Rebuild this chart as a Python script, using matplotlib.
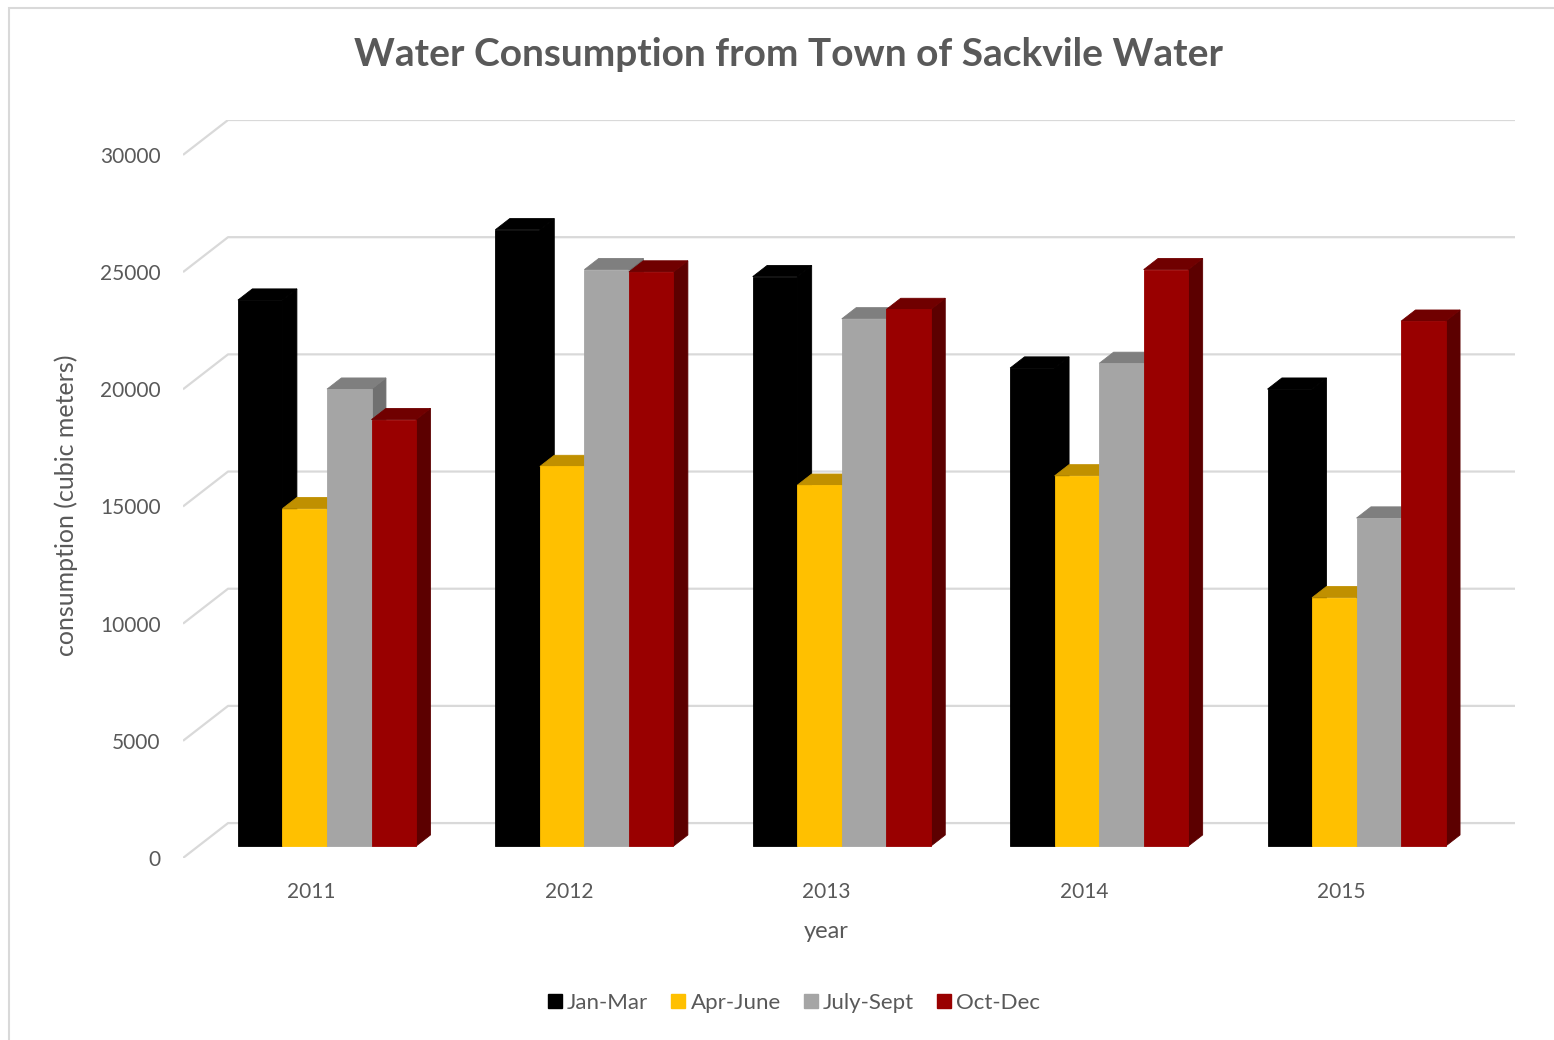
"""Water consumption, Town of Sackville - pseudo-3D clustered columns."""
import matplotlib.pyplot as plt
from matplotlib.patches import Polygon, Rectangle
from matplotlib.lines import Line2D

plt.rcParams["font.family"] = ["Lato", "DejaVu Sans"]

years = ["2011", "2012", "2013", "2014", "2015"]
quarters = ["Jan-Mar", "Apr-June", "July-Sept", "Oct-Dec"]
jan_mar = [23300, 26300, 24300, 20400, 19500]
apr_june = [14400, 16200, 15400, 15800, 10600]
july_sept = [19500, 24600, 22500, 20600, 14000]
oct_dec = [18200, 24500, 22900, 24600, 22400]
yticks = [0, 5000, 10000, 15000, 20000, 25000, 30000]

series = [jan_mar, apr_june, july_sept, oct_dec]
front_col = ["#000000", "#ffc000", "#a5a5a5", "#990000"]
top_col = ["#000000", "#c09000", "#7f7f7f", "#700000"]
side_col = ["#000000", "#a67c00", "#707070", "#5c0000"]
TXT = "#595959"

# depth of the floor (back wall offset) in data units
DX, DY = 0.175, 1490
BAR_W = 0.173
B0, B1 = 0.34, 0.66  # bar front / back depth fraction

fig = plt.figure(figsize=(15.54, 10.4), dpi=100)
W, H = 1554, 1040
ax = fig.add_axes([183 / W, (H - 858) / H, (1515 - 183) / W, (858 - 120) / H])
ax.set_xlim(0, 5 + DX)
ax.set_ylim(0, 30000 + DY)
for s in ax.spines.values():
    s.set_visible(False)

# gridlines: front-left diagonal then along back wall
for v in yticks:
    ax.plot([0, DX, 5 + DX], [v, v + DY, v + DY], color="#d9d9d9", lw=1.6,
            solid_capstyle="butt", zorder=1)

for i in range(len(years)):
    left = i + 0.5 - 2 * BAR_W
    for k, vals in enumerate(series):
        v = vals[i]
        x0 = left + k * BAR_W + B0 * DX
        y0 = B0 * DY
        ddx, ddy = (B1 - B0) * DX, (B1 - B0) * DY
        side = Polygon([(x0 + BAR_W, y0), (x0 + BAR_W + ddx, y0 + ddy),
                        (x0 + BAR_W + ddx, y0 + v + ddy), (x0 + BAR_W, y0 + v)],
                       closed=True, fc=side_col[k], ec=side_col[k], lw=0.6, zorder=2)
        top = Polygon([(x0, y0 + v), (x0 + ddx, y0 + v + ddy),
                       (x0 + BAR_W + ddx, y0 + v + ddy), (x0 + BAR_W, y0 + v)],
                      closed=True, fc=top_col[k], ec=top_col[k], lw=0.6, zorder=2)
        front = Rectangle((x0, y0), BAR_W, v, fc=front_col[k], ec=front_col[k],
                          lw=0.6, zorder=2)
        ax.add_patch(side)
        ax.add_patch(top)
        ax.add_patch(front)

ax.set_yticks(yticks)
ax.set_yticklabels([str(t) for t in yticks], fontsize=15, color=TXT)
ax.set_xticks([i + 0.5 for i in range(len(years))])
ax.set_xticklabels(years, fontsize=15, color=TXT)
ax.tick_params(axis="y", length=0, pad=16)
ax.tick_params(axis="x", length=0, pad=17)
ax.set_xlabel("year", fontsize=17, color=TXT)
ax.xaxis.set_label_coords(2.5 / (5 + DX), -0.085)
ax.set_ylabel("consumption (cubic meters)", fontsize=18, color=TXT)
ax.yaxis.set_label_coords(-0.079, (858 - 505) / (858 - 120))

fig.text(788 / W, 1 - 55 / H, "Water Consumption from Town of Sackvile Water",
         ha="center", va="center", fontsize=28, fontweight="bold", color=TXT)

handles = [Line2D([], [], ls="none", marker="s", ms=9.5, mfc=c, mec=c)
           for c in front_col]
fig.legend(handles, quarters, loc="center", bbox_to_anchor=(792 / W, 1 - 1003 / H),
           ncol=4, frameon=False, fontsize=16, labelcolor=TXT,
           handletextpad=0.05, columnspacing=0.85, handlelength=1.0)

# chart area border (partly cropped)
fig.add_artist(Rectangle((8.5 / W, -0.01), 1.02, 1 - 7.5 / H + 0.01,
                         transform=fig.transFigure, fill=False,
                         ec="#d9d9d9", lw=1.5))

fig.savefig("out.png", dpi=100)
